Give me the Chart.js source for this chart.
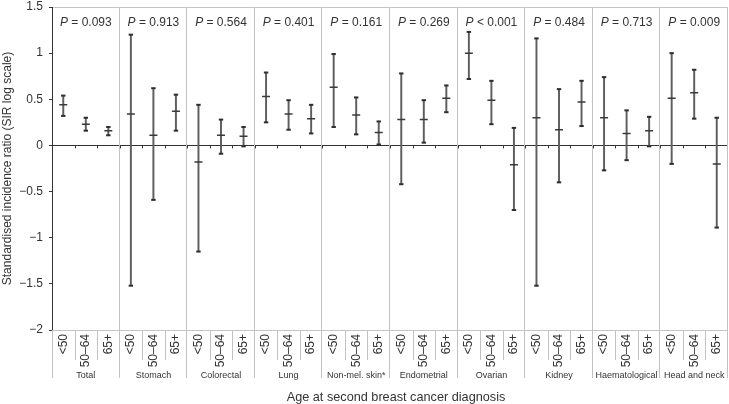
<!DOCTYPE html>
<html>
<head>
<meta charset="utf-8">
<script src="https://cdn.jsdelivr.net/npm/chart.js@4/dist/chart.umd.min.js"></script>
<style>
  html, body { margin: 0; padding: 0; background: #fff; }
  #c { display: block; }
</style>
</head>
<body>
<canvas id="c" width="729" height="404"></canvas>
<script>
// ---- data ----
const groups = ['Total', 'Stomach', 'Colorectal', 'Lung', 'Non-mel. skin*', 'Endometrial', 'Ovarian', 'Kidney', 'Haematological', 'Head and neck'];
const ageBands = ['<50', '50\u201364', '65+'];
const pText = ['= 0.093', '= 0.913', '= 0.564', '= 0.401', '= 0.161', '= 0.269', '< 0.001', '= 0.484', '= 0.713', '= 0.009'];
const estimate = [0.44, 0.23, 0.16,  0.34, 0.11, 0.37,  -0.18, 0.11, 0.10,  0.53, 0.34, 0.29,  0.63, 0.33, 0.14,  0.28, 0.28, 0.51,  1.00, 0.49, -0.21,  0.30, 0.17, 0.47,  0.30, 0.13, 0.16,  0.51, 0.57, -0.20];
const lower    = [0.32, 0.16, 0.11,  -1.52, -0.59, 0.16,  -1.15, -0.09, -0.01,  0.25, 0.17, 0.13,  0.20, 0.12, 0.01,  -0.42, 0.03, 0.36,  0.72, 0.23, -0.70,  -1.52, -0.40, 0.21,  -0.27, -0.16, -0.01,  -0.20, 0.29, -0.89];
const upper    = [0.54, 0.30, 0.20,  1.20, 0.62, 0.55,  0.44, 0.28, 0.20,  0.79, 0.49, 0.44,  0.99, 0.52, 0.26,  0.78, 0.49, 0.65,  1.23, 0.70, 0.19,  1.16, 0.61, 0.70,  0.74, 0.38, 0.31,  1.00, 0.82, 0.30];
const yTicks = [-2, -1.5, -1, -0.5, 0, 0.5, 1, 1.5];
const yTitle = 'Standardised incidence ratio (SIR log scale)';
const xTitle = 'Age at second breast cancer diagnosis';

const labels = groups.flatMap(g => ageBands.map(a => g + ' ' + a));
const FONT = '"Liberation Sans", Arial, Helvetica, sans-serif';
const SEP = '#c2c2c2';
const INK = '#333333';

const decor = {
  id: 'decor',
  beforeDatasetsDraw(chart) {
    const { ctx, chartArea: ca, scales: { x, y } } = chart;
    const n = labels.length;
    const y0 = y.getPixelForValue(0);
    ctx.save();
    ctx.lineWidth = 1;
    ctx.strokeStyle = SEP;
    for (let i = 3; i <= n; i += 3) {
      const px = Math.round(x.getPixelForValue(i - 0.5)) - 0.5;
      ctx.beginPath(); ctx.moveTo(px, ca.top); ctx.lineTo(px, 378); ctx.stroke();
    }
    const lx = Math.round(ca.left) + 0.5;
    ctx.beginPath(); ctx.moveTo(lx, ca.bottom); ctx.lineTo(lx, 378); ctx.stroke();
    for (let i = 1; i < n; i++) {
      if (i % 3 === 0) continue;
      const px = Math.round(x.getPixelForValue(i - 0.5)) + 0.5;
      ctx.beginPath(); ctx.moveTo(px, ca.bottom); ctx.lineTo(px, 360); ctx.stroke();
    }
    ctx.strokeStyle = INK;
    for (let i = 1; i < n; i++) {
      const px = Math.round(x.getPixelForValue(i - 0.5)) + 0.5;
      ctx.beginPath(); ctx.moveTo(px, y0); ctx.lineTo(px, y0 + 3); ctx.stroke();
    }
    ctx.restore();
  },
  afterDraw(chart) {
    const { ctx, scales: { x } } = chart;
    ctx.save();
    ctx.fillStyle = INK;
    groups.forEach((g, gi) => {
      const cx = (x.getPixelForValue(gi * 3 - 0.5) + x.getPixelForValue(gi * 3 + 2.5)) / 2;
      const fi = 'italic 12px ' + FONT;
      const fn = '12px ' + FONT;
      ctx.font = fi; const w1 = ctx.measureText('P').width;
      ctx.font = fn; const rest = ' ' + pText[gi]; const w2 = ctx.measureText(rest).width;
      const sx = cx - (w1 + w2) / 2;
      ctx.textAlign = 'left'; ctx.textBaseline = 'alphabetic';
      ctx.font = fi; ctx.fillText('P', sx, 26);
      ctx.font = fn; ctx.fillText(rest, sx + w1, 26);
      ctx.font = '9px ' + FONT;
      ctx.textAlign = 'center';
      ctx.fillText(g, cx, 377.5);
    });
    ctx.font = '12.7px ' + FONT;
    ctx.textAlign = 'center';
    ctx.fillText(xTitle, 396, 401);
    ctx.restore();
  }
};

new Chart(document.getElementById('c'), {
  type: 'bar',
  data: {
    labels: labels,
    datasets: [
      {
        type: 'line', label: 'SIR', data: estimate, showLine: false, order: 1,
        pointStyle: 'line', pointRadius: 4, pointBorderWidth: 1.5,
        pointBorderColor: '#3a3a3a', pointBackgroundColor: '#3a3a3a'
      },
      {
        type: 'line', label: 'Upper', data: upper, showLine: false, order: 1,
        pointStyle: 'line', pointRadius: 2.2, pointBorderWidth: 2,
        pointBorderColor: '#2e2e2e'
      },
      {
        type: 'line', label: 'Lower', data: lower, showLine: false, order: 1,
        pointStyle: 'line', pointRadius: 2.2, pointBorderWidth: 2,
        pointBorderColor: '#2e2e2e'
      },
      {
        type: 'bar', label: 'CI', order: 2,
        data: upper.map((u, i) => [lower[i], u]),
        backgroundColor: '#5e5e5e', borderWidth: 0, barThickness: 1.3
      }
    ]
  },
  options: {
    responsive: false,
    animation: false,
    events: [],
    layout: { autoPadding: false, padding: { top: 7, right: 1, left: 0, bottom: 0 } },
    plugins: { legend: { display: false }, tooltip: { enabled: false } },
    scales: {
      x: {
        type: 'category',
        offset: true,
        grid: { display: false, drawTicks: false },
        border: { display: false },
        ticks: {
          autoSkip: false, minRotation: 90, maxRotation: 90, padding: 4,
          color: INK, font: { family: FONT, size: 12 },
          callback: (v, i) => ageBands[i % 3]
        },
        afterFit: s => { s.height = 74; s.paddingLeft = 0; s.paddingRight = 0; }
      },
      y: {
        min: -2, max: 1.5,
        afterBuildTicks: s => { s.ticks = yTicks.map(v => ({ value: v })); },
        ticks: {
          color: INK, padding: 6, font: { family: FONT, size: 12 },
          callback: v => (v < 0 ? '\u2212' + Math.abs(v) : String(v))
        },
        grid: {
          drawOnChartArea: true, drawTicks: true, tickLength: 3, tickColor: INK,
          color: c => (c.tick && c.tick.value === 0 ? INK : (c.tick && (c.tick.value === -2 || c.tick.value === 1.5) ? '#c4c4c4' : 'rgba(0,0,0,0)')),
          lineWidth: 1
        },
        border: { display: true, color: INK, width: 1 },
        title: { display: true, text: yTitle, color: INK, font: { family: FONT, size: 12 }, padding: { top: 0, bottom: 0 } },
        afterFit: s => { s.width = 52; s.paddingTop = 0; s.paddingBottom = 0; }
      }
    }
  },
  plugins: [decor]
});
</script>
</body>
</html>
